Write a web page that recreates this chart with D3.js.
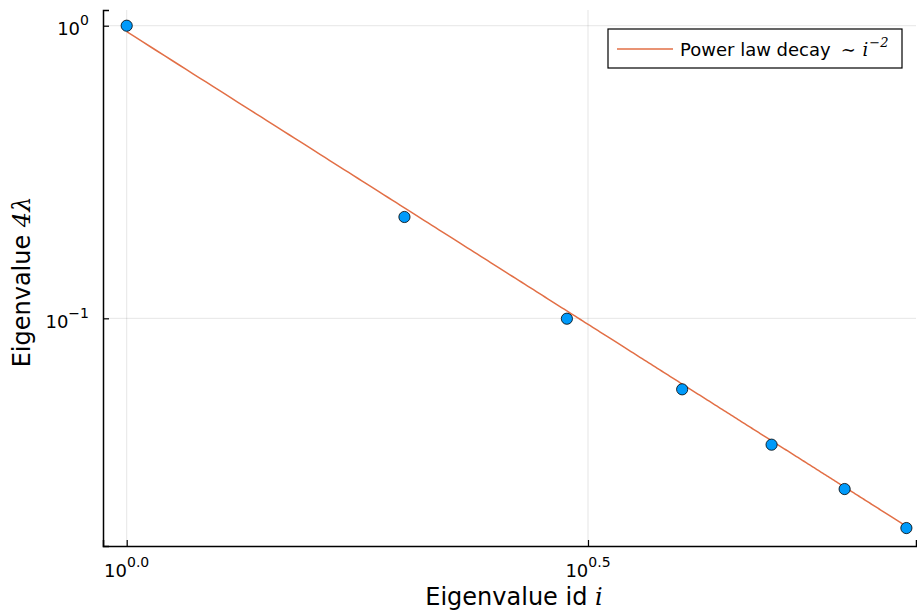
<!DOCTYPE html>
<html>
<head>
<meta charset="utf-8">
<script src="https://cdn.jsdelivr.net/npm/d3@7"></script>
<style>
  body { margin: 0; background: white; }
  svg { font-family: "DejaVu Sans", sans-serif; }
  .math { font-family: "DejaVu Serif", serif; font-style: italic; }
</style>
</head>
<body>
<svg width="917" height="616"></svg>
<script>
// Data
let ids = [1, 2, 3, 4, 5, 6, 7];
let eigen = [1.0, 0.222, 0.0997, 0.0572, 0.0370, 0.0261, 0.0192];
let fitC = 0.954;             // power law prefactor, c * i^-2
let fitRange = [1, 7.08];
let xTicks = [0, 0.5];        // exponents of 10
let yTicks = [0, -1];

let svg = d3.select("svg"),
  margin = { top: 10, right: 1, bottom: 70, left: 103 },
  width = +svg.attr("width") - margin.left - margin.right,
  height = +svg.attr("height") - margin.top - margin.bottom,
  g = svg.append("g").attr("transform", "translate(" + margin.left + "," + margin.top + ")");

let x = d3.scaleLog().domain([Math.pow(10, -0.0257), 7.17]).range([0, width]);
let y = d3.scaleLog().domain([0.01667, Math.pow(10, 0.0537)]).range([height, 0]);

// Grid lines
g.append("g").selectAll("line")
  .data(xTicks).enter().append("line")
    .attr("x1", d => x(Math.pow(10, d))).attr("x2", d => x(Math.pow(10, d)))
    .attr("y1", 0).attr("y2", height)
    .attr("stroke", "#000").attr("stroke-opacity", 0.1);
g.append("g").selectAll("line")
  .data(yTicks).enter().append("line")
    .attr("y1", d => y(Math.pow(10, d))).attr("y2", d => y(Math.pow(10, d)))
    .attr("x1", 0).attr("x2", width)
    .attr("stroke", "#000").attr("stroke-opacity", 0.1);

// Axes (ticks point inward)
let xAxis = g.append("g")
  .attr("transform", "translate(0," + height + ")")
  .call(d3.axisBottom(x).tickValues(xTicks.map(d => Math.pow(10, d))).tickSize(-6).tickFormat(""));
let yAxis = g.append("g")
  .call(d3.axisLeft(y).tickValues(yTicks.map(d => Math.pow(10, d))).tickSize(-6).tickFormat(""));
[xAxis, yAxis].forEach(a => {
  a.select(".domain").attr("stroke", "#000").attr("stroke-width", 1.5);
  a.selectAll(".tick line").attr("stroke", "#000").attr("stroke-width", 1.2);
});

// Tick labels with superscripts
xTicks.forEach(d => {
  let t = g.append("text")
    .attr("x", x(Math.pow(10, d)))
    .attr("y", height + 31)
    .attr("text-anchor", "middle")
    .style("font-size", "18px");
  t.append("tspan").text("10");
  t.append("tspan").attr("dy", -10).style("font-size", "14px").text(d3.format(".1f")(d));
});
yTicks.forEach(d => {
  let t = g.append("text")
    .attr("x", -14)
    .attr("y", y(Math.pow(10, d)) + 9.5)
    .attr("text-anchor", "end")
    .style("font-size", "18px");
  t.append("tspan").text("10");
  t.append("tspan").attr("dy", -10).style("font-size", "14px").text(d3.format("d")(d).replace("-", "\u2212"));
});

// Power law line
let fitX = d3.range(fitRange[0], fitRange[1] + 0.001, 0.02);
let line = d3.line()
  .x(d => x(d))
  .y(d => y(fitC * Math.pow(d, -2)));
g.append("path")
  .datum(fitX)
  .attr("d", line)
  .attr("fill", "none")
  .attr("stroke", "#E26F46")
  .attr("stroke-width", 1.5);

// Points
g.append("g").selectAll("circle")
  .data(ids).enter().append("circle")
    .attr("cx", d => x(d))
    .attr("cy", (d, i) => y(eigen[i]))
    .attr("r", 5.6)
    .attr("fill", "#009AFA")
    .attr("stroke", "#000")
    .attr("stroke-width", 0.8);

// Axis labels
let xl = svg.append("text")
  .attr("x", 514)
  .attr("y", 605)
  .attr("text-anchor", "middle")
  .style("font-size", "24px");
xl.append("tspan").text("Eigenvalue id ");
xl.append("tspan").attr("class", "math").text("i");

let yl = svg.append("text")
  .attr("transform", "translate(29.5,282) rotate(-90)")
  .attr("text-anchor", "middle")
  .style("font-size", "24px");
yl.append("tspan").text("Eigenvalue ");
yl.append("tspan").attr("class", "math").text("4\u03BB");

// Legend
let legend = svg.append("g").attr("transform", "translate(608,29)");
legend.append("rect")
  .attr("width", 294).attr("height", 39)
  .attr("fill", "white").attr("stroke", "#000").attr("stroke-width", 1.2);
legend.append("line")
  .attr("x1", 9).attr("x2", 65).attr("y1", 20).attr("y2", 20)
  .attr("stroke", "#E26F46").attr("stroke-width", 1.5);
let lt = legend.append("text").attr("x", 72).attr("y", 27).style("font-size", "18px");
lt.append("tspan").text("Power law decay");
lt.append("tspan").attr("class", "math").attr("dx", 10).text("\u223C ");
lt.append("tspan").attr("class", "math").attr("dx", 1).text("i");
lt.append("tspan").attr("class", "math").attr("dy", -9).attr("dx", 1).style("font-size", "13px").text("\u22122");
</script>
</body>
</html>
